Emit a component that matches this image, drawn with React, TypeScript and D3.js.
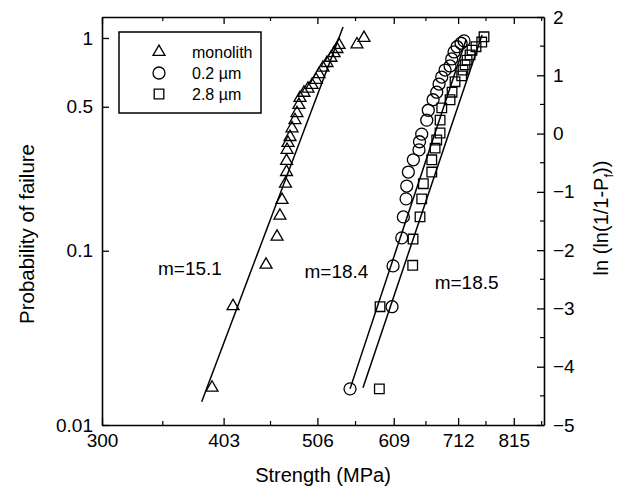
import React, { useEffect, useRef } from "react";
import * as d3 from "d3";

// each point: [strength (MPa), ln(ln(1/(1-Pf)))]
const monolith = [
  [391.8, -4.36], [412.3, -2.96], [446.7, -2.25], [458.8, -1.77], [462, -1.41],
  [464.4, -1.14], [468.3, -0.86], [469.5, -0.66], [469.5, -0.47], [470.1, -0.28],
  [471.2, -0.16], [473.5, -0.06], [475.8, 0.09], [479.2, 0.23], [481.5, 0.35],
  [483.8, 0.49], [485.1, 0.61], [489.8, 0.7], [494.6, 0.77], [499.5, 0.835],
  [504.4, 0.92], [508, 1.02], [512.9, 1.13], [517.9, 1.21], [523, 1.3],
  [526.8, 1.38], [530.6, 1.45], [533.2, 1.52], [557, 1.53], [566.6, 1.64],
];
const fine = [
  [547.7, -4.38], [606.5, -2.97], [608, -2.27], [621, -1.79], [623.4, -1.43],
  [627.5, -1.12], [628.5, -0.9], [631, -0.66], [638.7, -0.45], [647.5, -0.28],
  [648.3, -0.14], [651.8, -0.01], [659.8, 0.23], [662.3, 0.4], [670, 0.58],
  [676, 0.71], [679.8, 0.85], [684.2, 0.97], [689.8, 1.09], [698.2, 1.16],
  [701, 1.28], [705, 1.4], [710.2, 1.49], [717.1, 1.55], [722.3, 1.59],
];
const coarse = [
  [588.1, -4.38], [589.1, -2.97], [637.7, -2.26], [638.2, -1.81], [649.1, -1.43],
  [651.8, -1.12], [654.4, -0.86], [667.9, -0.66], [667.9, -0.45], [673.3, -0.25],
  [676, -0.11], [681.5, 0.01], [681.5, 0.23], [684.3, 0.44], [698.2, 0.58],
  [701.6, 0.71], [706.7, 0.89], [718.2, 0.99], [720.5, 1.09], [724.1, 1.18],
  [727.6, 1.26], [732.9, 1.35], [736.4, 1.43], [743.6, 1.49], [754, 1.57],
  [758.2, 1.66],
];

// fitted weibull lines (end points)
const fitMonolith = [[382.1, -4.6], [538.5, 1.83]];
const fitFine = [[547.7, -4.38], [725.8, 1.61]];
const fitCoarse = [[565.2, -4.36], [754.6, 1.69]];

const fitLabels = ["m=15.1", "m=18.4", "m=18.5"];
const fitLabelAt = [[371.4, -2.31], [530, -2.37], [726.8, -2.56]];

const seriesNames = ["monolith", "0.2 \u00b5m", "2.8 \u00b5m"];

const strengthTicks = [300, 403, 506, 609, 712, 815];
const strengthMinor = [347.7, 451.6, 555.1, 658.5, 761.8, 872];
const lnTicks = [-5, -4, -3, -2, -1, 0, 1, 2];
const lnMinor = [-4.5, -3.5, -2.5, -1.5, -0.5, 0.5, 1.5];
const probLabels = ["0.01", "0.1", "0.5", "1"];
const probPos = [-5, -2.01, 0.46, 1.64];

function App() {
  const canvas = useRef<SVGSVGElement>(null);

  useEffect(() => {
    const width = 627;
    const height = 493;
    const margin = { top: 17, left: 102, bottom: 68, right: 83 };
    const font = "'Liberation Sans', Arial, sans-serif";

    const svg = d3.select(canvas.current);
    svg.selectAll("*").remove();

    const x = d3
      .scaleLog()
      .domain([300, 877])
      .range([margin.left, width - margin.right]);
    const y = d3
      .scaleLinear()
      .domain([-5, 2])
      .range([height - margin.bottom, margin.top]);

    const x0 = margin.left;
    const x1 = width - margin.right;
    const y0 = height - margin.bottom;
    const y1 = margin.top;

    // minor ticks
    const minor = svg.append("g").attr("stroke", "#000").attr("stroke-width", 1.2);
    strengthMinor.forEach((v) => {
      minor.append("line").attr("x1", x(v)).attr("x2", x(v)).attr("y1", y0).attr("y2", y0 - 4);
      minor.append("line").attr("x1", x(v)).attr("x2", x(v)).attr("y1", y1).attr("y2", y1 + 4);
    });
    lnMinor.forEach((v) => {
      minor.append("line").attr("x1", x1).attr("x2", x1 - 4).attr("y1", y(v)).attr("y2", y(v));
    });

    const styleAxis = (g: any) => {
      g.select(".domain").attr("stroke-width", 1.6);
      g.selectAll(".tick line").attr("stroke-width", 1.3);
      g.selectAll("text").attr("font-family", font).attr("font-size", 19).attr("fill", "#000");
    };

    svg
      .append("g")
      .attr("transform", `translate(0,${y0})`)
      .call(
        d3.axisBottom(x).tickValues(strengthTicks).tickFormat(d3.format("d")).tickSizeInner(-7).tickSizeOuter(0).tickPadding(9)
      )
      .call(styleAxis);

    svg
      .append("g")
      .attr("transform", `translate(0,${y1})`)
      .call(d3.axisTop(x).tickValues(strengthTicks).tickFormat(() => "").tickSizeInner(-7).tickSizeOuter(0))
      .call(styleAxis);

    svg
      .append("g")
      .attr("transform", `translate(${x0},0)`)
      .call(
        d3
          .axisLeft(y)
          .tickValues(probPos)
          .tickFormat((d, i) => probLabels[i])
          .tickSizeInner(-7)
          .tickSizeOuter(0)
          .tickPadding(9)
      )
      .call(styleAxis);

    svg
      .append("g")
      .attr("transform", `translate(${x1},0)`)
      .call(d3.axisRight(y).tickValues(lnTicks).tickFormat(d3.format("d")).tickSizeInner(-7).tickSizeOuter(0).tickPadding(9))
      .call(styleAxis);

    // fit lines
    const line = d3
      .line<number[]>()
      .x((d) => x(d[0]))
      .y((d) => y(d[1]));
    [fitMonolith, fitFine, fitCoarse].forEach((f) => {
      svg.append("path").attr("d", line(f)).attr("fill", "none").attr("stroke", "#000").attr("stroke-width", 1.5);
    });

    const symbols = [
      d3.symbol().type(d3.symbolTriangle).size(62),
      d3.symbol().type(d3.symbolCircle).size(113),
      d3.symbol().type(d3.symbolSquare).size(92),
    ];

    [monolith, fine, coarse].forEach((data, k) => {
      svg
        .append("g")
        .selectAll("path")
        .data(data)
        .enter()
        .append("path")
        .attr("transform", (d) => `translate(${x(d[0])},${y(d[1])})`)
        .attr("d", symbols[k]())
        .attr("fill", "none")
        .attr("stroke", "#000")
        .attr("stroke-width", 1.3);
    });

    // slope labels
    fitLabels.forEach((t, i) => {
      svg
        .append("text")
        .attr("x", x(fitLabelAt[i][0]))
        .attr("y", y(fitLabelAt[i][1]))
        .attr("text-anchor", "middle")
        .attr("dominant-baseline", "central")
        .attr("font-family", font)
        .attr("font-size", 19)
        .text(t);
    });

    // legend
    const lg = svg.append("g").attr("transform", "translate(119,32)");
    lg.append("rect").attr("width", 142).attr("height", 81).attr("fill", "#fff").attr("stroke", "#000").attr("stroke-width", 1.5);
    seriesNames.forEach((name, i) => {
      lg.append("path")
        .attr("transform", `translate(40,${20 + i * 21})`)
        .attr("d", symbols[i]())
        .attr("fill", "none")
        .attr("stroke", "#000")
        .attr("stroke-width", 1.3);
      lg.append("text")
        .attr("x", 73)
        .attr("y", 20 + i * 21)
        .attr("dominant-baseline", "central")
        .attr("font-family", font)
        .attr("font-size", 16)
        .text(name);
    });

    // axis titles
    svg
      .append("text")
      .attr("x", (x0 + x1) / 2)
      .attr("y", 482)
      .attr("text-anchor", "middle")
      .attr("font-family", font)
      .attr("font-size", 20)
      .text("Strength (MPa)");

    svg
      .append("text")
      .attr("transform", "translate(34,234) rotate(-90)")
      .attr("text-anchor", "middle")
      .attr("font-family", font)
      .attr("font-size", 20.5)
      .text("Probability of failure");

    const rt = svg
      .append("text")
      .attr("transform", "translate(608,218) rotate(-90)")
      .attr("text-anchor", "middle")
      .attr("font-family", font)
      .attr("font-size", 20);
    rt.append("tspan").text("ln (ln(1/1-P");
    rt.append("tspan").attr("font-size", 13).attr("dy", 5).text("f");
    rt.append("tspan").attr("dy", -5).text("))");
  }, []);

  return (
    <svg
      ref={canvas}
      width={627}
      height={493}
      style={{ position: "absolute", left: 0, top: 0, background: "#fff" }}
    />
  );
}

export default App;
